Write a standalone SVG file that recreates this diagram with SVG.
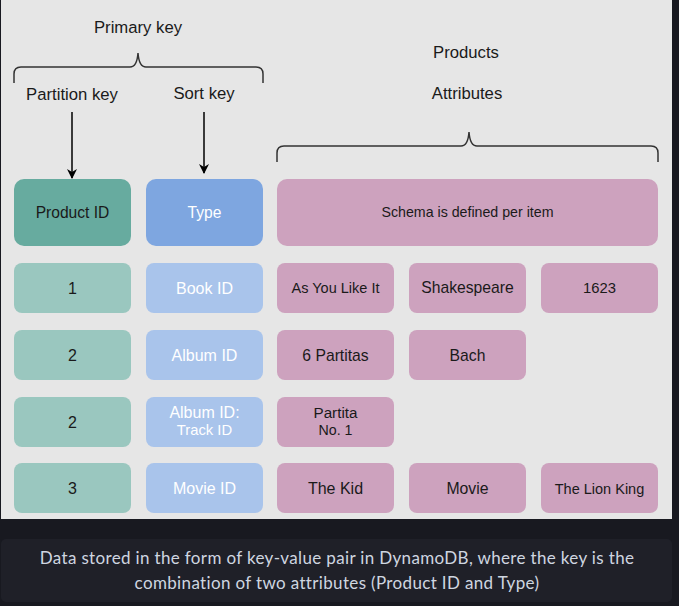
<svg xmlns="http://www.w3.org/2000/svg" width="679" height="606" viewBox="0 0 679 606">
<defs>
<marker id="ah" markerWidth="10" markerHeight="10" refX="9" refY="5" orient="auto" markerUnits="userSpaceOnUse" viewBox="0 0 10 10">
<path d="M0,0 L10,5 L0,10 L3,5 Z" fill="#000"/>
</marker>
<style>
text{font-family:"Liberation Sans",Arial,sans-serif;text-anchor:middle;dominant-baseline:central;fill:#1a1a1a}
.lbl{font-size:16.7px}
.pk{fill:#67AB9F}
.tp{fill:#7EA6E0}
.at{fill:#CDA2BE}
.pkl{fill:#9AC7BF}
.tpl{fill:#A9C4EB}
.w{fill:#ffffff}
.brace{fill:none;stroke:#333;stroke-width:1.5}
.conn{stroke:#000;stroke-width:1.5;fill:none}
.cap{font-family:Lato,"Noto Sans",sans-serif;fill:#cfd6e0;font-size:17px;letter-spacing:0.35px}
</style>
</defs>
<rect x="0" y="0" width="679" height="606" fill="#181920"/>
<rect x="1" y="0" width="671" height="519" fill="#e6e6e6"/>

<g id="labels">
<text class="lbl" x="138" y="27">Primary key</text>
<text class="lbl" x="72" y="94">Partition key</text>
<text class="lbl" x="204" y="93">Sort key</text>
<text class="lbl" x="466" y="52">Products</text>
<text class="lbl" x="467" y="93">Attributes</text>
</g>

<g id="braces">
<path class="brace" d="M14,83 L14,74 Q14,67 21,67 L130,67 Q137,67 138,53 Q139,67 146,67 L256,67 Q263,67 263,74 L263,83"/>
<path class="brace" d="M277,162 L277,153 Q277,146 284,146 L461,146 Q468,146 469,132 Q470,146 477,146 L651,146 Q658,146 658,153 L658,162"/>
</g>

<g id="connectors">
<line class="conn" x1="72" y1="112" x2="72" y2="178" marker-end="url(#ah)"/>
<line class="conn" x1="204" y1="112" x2="204" y2="173" marker-end="url(#ah)"/>
</g>

<g id="n-productid"><rect class="pk" x="14" y="179" width="117" height="67" rx="10"/><text x="72.5" y="212" font-size="15.6">Product ID</text></g>
<g id="n-type"><rect class="tp" x="146" y="179" width="117" height="67" rx="10"/><text class="w" x="204.5" y="212" font-size="15.6">Type</text></g>
<g id="n-schema"><rect class="at" x="277" y="179" width="381" height="67" rx="10"/><text x="467.5" y="212" font-size="14.2">Schema is defined per item</text></g>

<g id="n-r1-pk"><rect class="pkl" x="14" y="263" width="117" height="50" rx="8"/><text x="72.5" y="288" font-size="16">1</text></g>
<g id="n-r1-type"><rect class="tpl" x="146" y="263" width="117" height="50" rx="8"/><text class="w" x="204.5" y="288" font-size="16">Book ID</text></g>
<g id="n-r1-a1"><rect class="at" x="277" y="263" width="117" height="50" rx="8"/><text x="335.5" y="288" font-size="14.5">As You Like It</text></g>
<g id="n-r1-a2"><rect class="at" x="409" y="263" width="117" height="50" rx="8"/><text x="467.5" y="287" font-size="15.7">Shakespeare</text></g>
<g id="n-r1-a3"><rect class="at" x="541" y="263" width="117" height="50" rx="8"/><text x="599.5" y="288" font-size="14.8">1623</text></g>

<g id="n-r2-pk"><rect class="pkl" x="14" y="330" width="117" height="50" rx="8"/><text x="72.5" y="355" font-size="16">2</text></g>
<g id="n-r2-type"><rect class="tpl" x="146" y="330" width="117" height="50" rx="8"/><text class="w" x="204.5" y="355" font-size="16">Album ID</text></g>
<g id="n-r2-a1"><rect class="at" x="277" y="330" width="117" height="50" rx="8"/><text x="335.5" y="355" font-size="15.7">6 Partitas</text></g>
<g id="n-r2-a2"><rect class="at" x="409" y="330" width="117" height="50" rx="8"/><text x="467.5" y="355" font-size="15.7">Bach</text></g>

<g id="n-r3-pk"><rect class="pkl" x="14" y="397" width="117" height="50" rx="8"/><text x="72.5" y="422" font-size="16">2</text></g>
<g id="n-r3-type"><rect class="tpl" x="146" y="397" width="117" height="50" rx="8"/><text class="w" x="204.5" y="412" font-size="16">Album ID:</text><text class="w" x="204.5" y="430" font-size="14.8">Track ID</text></g>
<g id="n-r3-a1"><rect class="at" x="277" y="397" width="117" height="50" rx="8"/><text x="335.5" y="412" font-size="15.2">Partita</text><text x="335.5" y="430" font-size="14.2">No. 1</text></g>

<g id="n-r4-pk"><rect class="pkl" x="14" y="463" width="117" height="50" rx="8"/><text x="72.5" y="488" font-size="16">3</text></g>
<g id="n-r4-type"><rect class="tpl" x="146" y="463" width="117" height="50" rx="8"/><text class="w" x="204.5" y="488" font-size="16">Movie ID</text></g>
<g id="n-r4-a1"><rect class="at" x="277" y="463" width="117" height="50" rx="8"/><text x="335.5" y="488" font-size="16">The Kid</text></g>
<g id="n-r4-a2"><rect class="at" x="409" y="463" width="117" height="50" rx="8"/><text x="467.5" y="488" font-size="15.8">Movie</text></g>
<g id="n-r4-a3"><rect class="at" x="541" y="463" width="117" height="50" rx="8"/><text x="599.5" y="489" font-size="14.5">The Lion King</text></g>

<g id="caption">
<rect x="1" y="539" width="671" height="63" rx="5" fill="#1f2028"/>
<text class="cap" x="337" y="557">Data stored in the form of key-value pair in DynamoDB, where the key is the</text>
<text class="cap" x="337" y="582">combination of two attributes (Product ID and Type)</text>
</g>
</svg>
